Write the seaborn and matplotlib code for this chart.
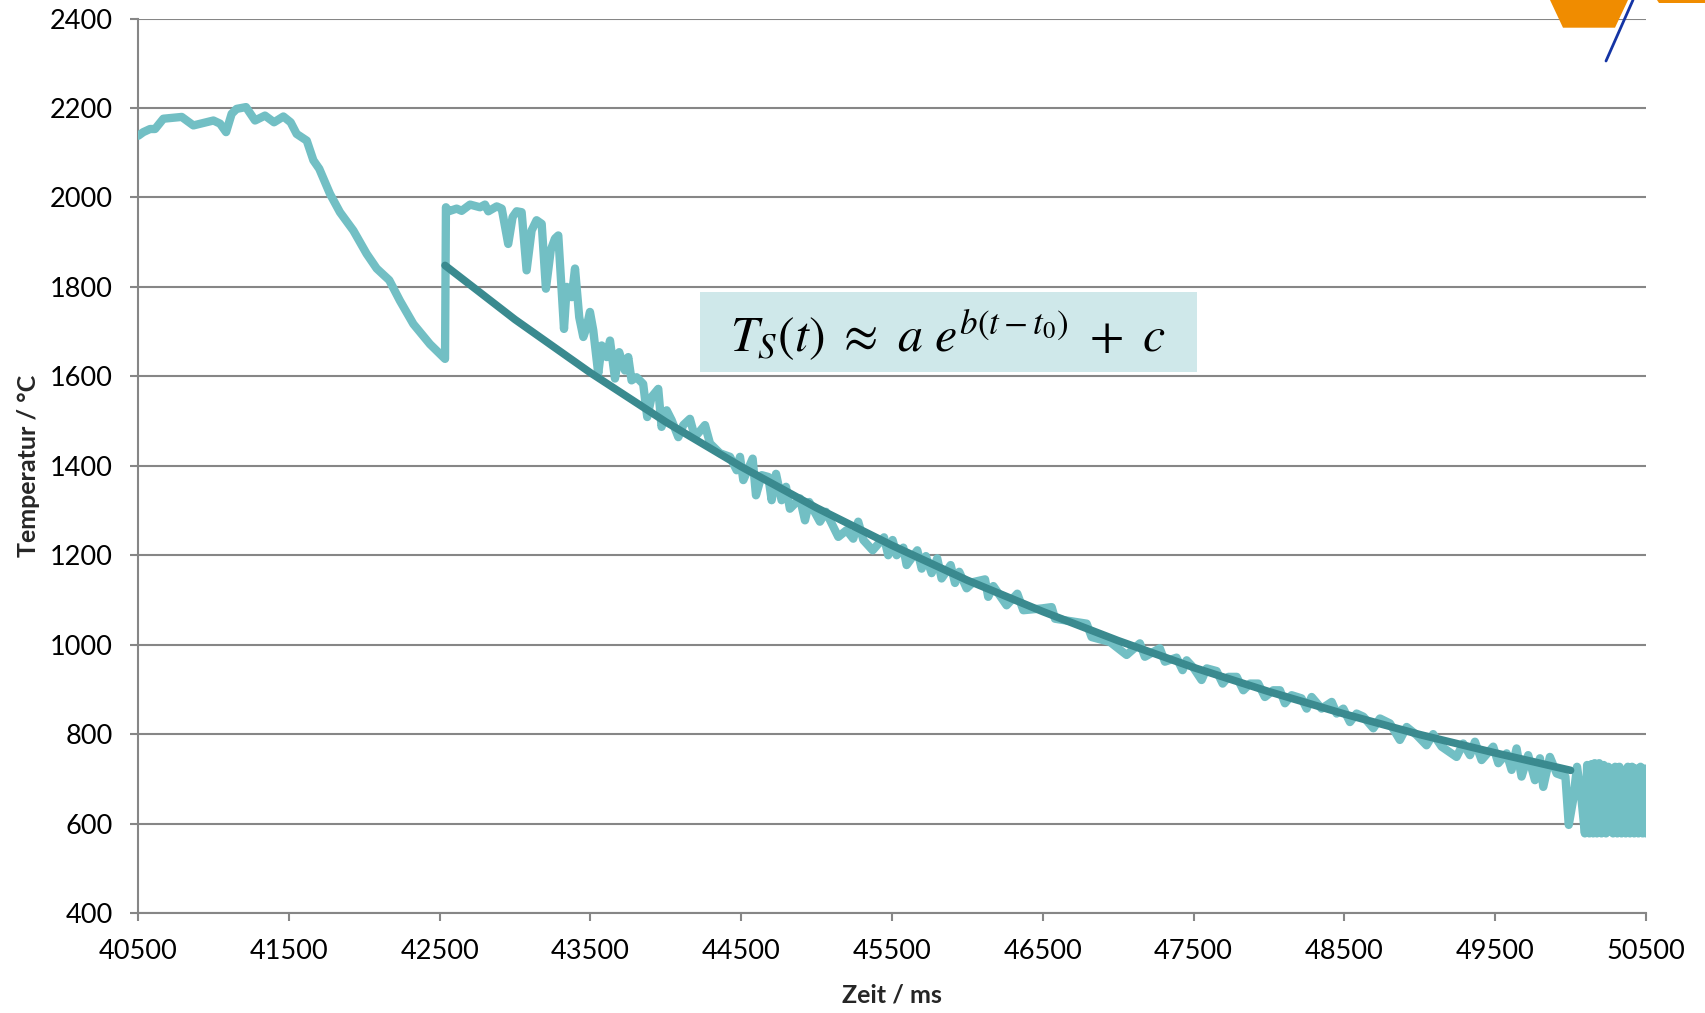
import matplotlib
matplotlib.use('Agg')
import matplotlib.pyplot as plt
from matplotlib.patches import Rectangle, Polygon
from matplotlib.lines import Line2D
import pandas as pd
import seaborn as sns

zeit_ms = [
    40502, 40535, 40580, 40613, 40668, 40790, 40867, 41000, 41044, 41084,
    41121, 41154, 41216, 41276, 41342, 41402, 41464, 41512, 41552, 41619,
    41663, 41702, 41773, 41839, 41928, 42016, 42083, 42166, 42237, 42326,
    42436, 42536, 42542, 42560, 42613, 42646, 42702, 42768, 42801, 42823,
    42879, 42912, 42955, 42984, 43011, 43044, 43077, 43110, 43143, 43177,
    43205, 43237, 43265, 43287, 43325, 43343, 43376, 43398, 43426, 43453,
    43475, 43497, 43519, 43552, 43575, 43608, 43630, 43663, 43691, 43729,
    43751, 43773, 43806, 43850, 43877, 43906, 43950, 43972, 44006, 44039,
    44083, 44116, 44160, 44193, 44260, 44293, 44359, 44426, 44470,
    44492, 44514, 44576, 44598, 44636, 44680, 44702, 44731, 44768, 44797,
    44823, 44890, 44923, 44951, 45022, 45062, 45144, 45199, 45243, 45276,
    45310, 45372, 45447, 45475, 45504, 45531, 45575, 45597, 45668, 45697,
    45725, 45763, 45800, 45829, 45889, 45918, 45946, 45995, 46039, 46117,
    46138, 46172, 46260, 46331, 46371, 46493, 46559, 46581, 46713, 46791,
    46824, 46946, 47056, 47144, 47177, 47255,
    47276, 47310, 47387, 47427, 47454, 47498, 47553, 47587, 47653, 47693,
    47730, 47786, 47830, 47874, 47929, 47973, 48028, 48073, 48106, 48150,
    48216, 48250, 48283, 48349, 48416, 48449, 48493, 48537, 48581, 48626,
    48692, 48736, 48802, 48868, 48913, 48979, 49045, 49089, 49145, 49244,
    49288, 49333, 49366, 49410, 49487, 49521, 49576, 49609, 49642, 49675,
    49719, 49764, 49797, 49819, 49863, 49908,
    49966, 49988, 50017, 50043, 50073, 50095, 50110, 50125, 50140, 50150,
    50160, 50175, 50190, 50205, 50220, 50235, 50250, 50265, 50282, 50296,
    50310, 50324, 50338, 50352, 50366, 50380, 50394, 50408, 50422, 50436,
    50450, 50464, 50478, 50492, 50500,
]
temp_c = [
    2138, 2146, 2153, 2153, 2176, 2180, 2161, 2172, 2165, 2146,
    2187, 2198, 2202, 2172, 2183, 2168, 2181, 2168, 2142, 2127,
    2083, 2064, 2008, 1967, 1926, 1874, 1841, 1815, 1769, 1717,
    1672, 1639, 1978, 1969, 1975, 1970, 1984, 1978, 1984, 1969,
    1980, 1975, 1896, 1956, 1969, 1967, 1837, 1926, 1949, 1941,
    1796, 1882, 1908, 1915, 1706, 1800, 1777, 1841, 1732, 1688,
    1710, 1744, 1703, 1606, 1669, 1643, 1680, 1595, 1654, 1613,
    1643, 1591, 1598, 1583, 1509, 1554, 1572, 1487, 1524, 1502,
    1464, 1491, 1505, 1464, 1491, 1450, 1428, 1420, 1390,
    1420, 1368, 1416, 1334, 1379, 1375, 1323, 1382, 1323, 1353,
    1304, 1327, 1278, 1319, 1275, 1297, 1241, 1256, 1237, 1275,
    1234, 1211, 1240, 1200, 1234, 1200, 1217, 1178, 1211, 1170,
    1198, 1160, 1193, 1148, 1178, 1138, 1163, 1126, 1140, 1146,
    1107, 1131, 1088, 1114, 1077, 1081, 1084, 1058, 1051, 1047,
    1017, 1006, 977, 1003, 973, 988,
    992, 962, 971, 943, 965, 949, 921, 947, 941, 913,
    928, 928, 898, 913, 913, 883, 898, 898, 869, 887,
    880, 857, 883, 857, 872, 846, 857, 827, 846, 839,
    813, 835, 824, 787, 816, 798, 775, 800, 772, 749,
    779, 753, 783, 742, 772, 735, 757, 720, 768, 705,
    753, 697, 746, 682, 749, 712,
    705, 597, 653, 727, 653, 578, 731, 578, 733, 578,
    735, 578, 735, 578, 731, 578, 727, 656, 578, 727,
    578, 727, 578, 720, 578, 727, 578, 727, 578, 723,
    578, 727, 578, 723, 578,
]

# exponential fit T_S(t)
fit_zeit_ms = [42536, 43000, 43500, 44000, 44500, 45000, 45500, 46000,
               46500, 47000, 47500, 48000, 48500, 49000, 49500, 50000]
fit_temp_c = [1848, 1727, 1608, 1498, 1398, 1306, 1222, 1144,
              1074, 1009, 949, 895, 845, 799, 758, 719]

x_ticks = list(range(40500, 50501, 1000))
y_ticks = list(range(400, 2401, 200))

messung = pd.DataFrame({'Zeit': zeit_ms, 'Temperatur': temp_c})
fit = pd.DataFrame({'Zeit': fit_zeit_ms, 'Temperatur': fit_temp_c})

sns.set_theme(style='white')
plt.rcParams['font.family'] = ['Lato', 'DejaVu Sans']
plt.rcParams['mathtext.fontset'] = 'stix'

fig = plt.figure(figsize=(17.06, 10.13), dpi=100)

# partial logo in the top right corner
fig.patches.append(Polygon([(1550 / 1706, 1.0), (1628 / 1706, 1.0),
                            (1615 / 1706, 1 - 27.7 / 1013), (1563 / 1706, 1 - 27.7 / 1013)],
                           closed=True, transform=fig.transFigure, facecolor='#F08C00',
                           edgecolor='none', zorder=0))
fig.patches.append(Polygon([(1657 / 1706, 1.0), (1.0, 1.0), (1.0, 1 - 2.7 / 1013),
                            (1659 / 1706, 1 - 2.7 / 1013)],
                           closed=True, transform=fig.transFigure, facecolor='#F08C00',
                           edgecolor='none', zorder=0))

ax = fig.add_axes([0.0809, 0.0987, 0.8839, 0.8830])
ax.patch.set_alpha(0)

sns.lineplot(data=messung, x='Zeit', y='Temperatur', ax=ax, sort=False, estimator=None,
             color='#72BFC4', lw=6, zorder=3)
sns.lineplot(data=fit, x='Zeit', y='Temperatur', ax=ax, sort=False, estimator=None,
             color='#3A8A8F', lw=5.5, zorder=4)
for ln in ax.lines:
    ln.set_solid_joinstyle('round')
    ln.set_solid_capstyle('round')

ax.set_xlim(40500, 50500)
ax.set_ylim(400, 2400)
ax.set_xticks(x_ticks)
ax.set_yticks(y_ticks)
ax.set_xticklabels([str(v) for v in x_ticks])
ax.set_yticklabels([str(v) for v in y_ticks])
ax.tick_params(axis='both', labelsize=19.5, colors='#868686', labelcolor='black',
               length=6, width=1.5, direction='out', bottom=True, left=True)
ax.tick_params(axis='x', pad=13)
ax.tick_params(axis='y', pad=12)

ax.yaxis.grid(True, color='#868686', linewidth=1.5)
ax.xaxis.grid(False)
ax.set_axisbelow(True)
for side in ['top', 'right']:
    ax.spines[side].set_visible(False)
for side in ['left', 'bottom']:
    ax.spines[side].set_color('#868686')
    ax.spines[side].set_linewidth(1.5)

ax.set_xlabel('Zeit / ms', fontsize=18, fontweight='bold', labelpad=14)
ax.set_ylabel('Temperatur / °C', fontsize=18, fontweight='bold', labelpad=7)

# formula box
ax.add_patch(Rectangle((0.3727, 0.6048), 0.3295, 0.0894, transform=ax.transAxes,
                       facecolor='#CFE8EA', edgecolor='none', zorder=5))
ax.text(0.5375, 0.646, r'$T_S(t)\ \approx\ a\ e^{b(t-t_0)}\ +\ c$', transform=ax.transAxes,
        ha='center', va='center', fontsize=36, color='black', zorder=6)

# blue stroke of the logo
fig.lines.append(Line2D([1633 / 1706, 1606 / 1706], [1.0, 1 - 61 / 1013],
                        transform=fig.transFigure, color='#1434A4', linewidth=2))

fig.savefig('out.png', dpi=100)
